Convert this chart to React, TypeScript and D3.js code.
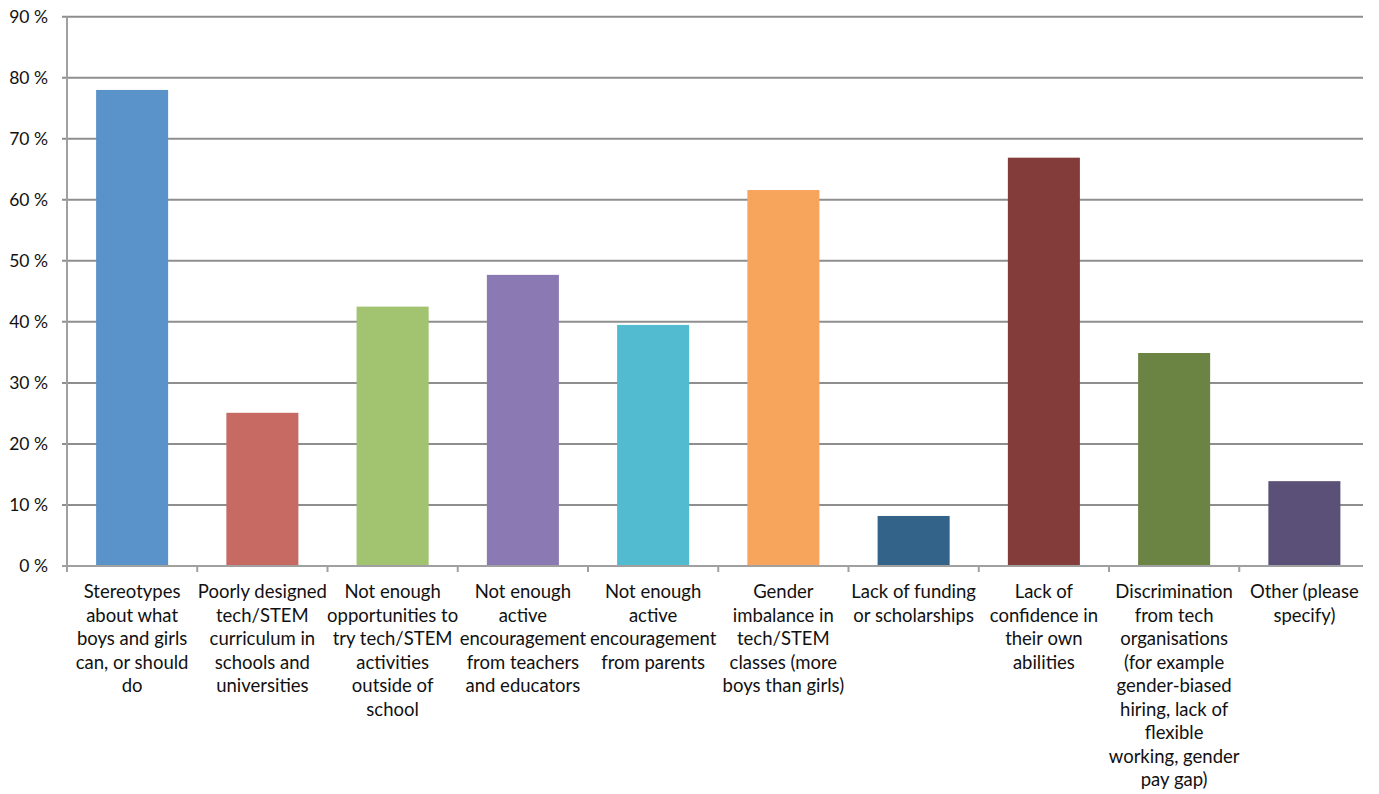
import { useEffect, useRef } from 'react'
import * as d3 from 'd3'

const categories: string[][] = [
  ['Stereotypes', 'about what', 'boys and girls', 'can, or should', 'do'],
  ['Poorly designed', 'tech/STEM', 'curriculum in', 'schools and', 'universities'],
  ['Not enough', 'opportunities to', 'try tech/STEM', 'activities', 'outside of', 'school'],
  ['Not enough', 'active', 'encouragement', 'from teachers', 'and educators'],
  ['Not enough', 'active', 'encouragement', 'from parents'],
  ['Gender', 'imbalance in', 'tech/STEM', 'classes (more', 'boys than girls)'],
  ['Lack of funding', 'or scholarships'],
  ['Lack of', 'confidence in', 'their own', 'abilities'],
  ['Discrimination', 'from tech', 'organisations', '(for example', 'gender-biased', 'hiring, lack of', 'flexible', 'working, gender', 'pay gap)'],
  ['Other (please', 'specify)'],
]

const values = [78, 25.1, 42.5, 47.7, 39.5, 61.6, 8.2, 66.9, 34.9, 13.9]

const colors = ['#5a93c9', '#c86a64', '#a2c370', '#8b79b3', '#52bbd0', '#f7a45d', '#336388', '#843c3b', '#6b8444', '#5b5077']

const yTicks = [0, 10, 20, 30, 40, 50, 60, 70, 80, 90]

export default function App() {
  const svgRef = useRef<SVGSVGElement>(null)

  useEffect(() => {
    if (!svgRef.current) return
    const width = 1379
    const height = 794
    const left = 67
    const gridRight = 1363

    const svg = d3.select(svgRef.current)
    svg.selectAll('*').remove()
    svg.attr('width', width).attr('height', height)

    const ids = categories.map((_, i) => String(i))
    const x = d3.scaleBand().domain(ids).range([left, 1369.5])
    const y = d3.scaleLinear().domain([0, 90]).range([566, 16.7])

    const font = 'Lato, "Open Sans", sans-serif'

    // Grid lines
    svg.append('g')
      .selectAll('line')
      .data(yTicks.filter(t => t > 0))
      .join('line')
      .attr('x1', left - 5).attr('x2', gridRight)
      .attr('y1', d => y(d)).attr('y2', d => y(d))
      .attr('stroke', '#8e8e8e').attr('stroke-width', 2)

    // Y axis line + zero line
    svg.append('line')
      .attr('x1', left).attr('x2', left)
      .attr('y1', y(90)).attr('y2', y(0) + 6)
      .attr('stroke', '#a0a0a0').attr('stroke-width', 2)
    svg.append('line')
      .attr('x1', left - 5).attr('x2', gridRight)
      .attr('y1', y(0)).attr('y2', y(0))
      .attr('stroke', '#a0a0a0').attr('stroke-width', 2)

    // X tick marks at band boundaries
    svg.append('g')
      .selectAll('line')
      .data(ids.slice(1))
      .join('line')
      .attr('x1', d => x(d) ?? 0).attr('x2', d => x(d) ?? 0)
      .attr('y1', y(0)).attr('y2', y(0) + 6)
      .attr('stroke', '#a0a0a0').attr('stroke-width', 2)

    // Y labels
    svg.append('g')
      .selectAll('text')
      .data(yTicks)
      .join('text')
      .attr('x', 48)
      .attr('y', d => y(d) + 6)
      .attr('text-anchor', 'end')
      .attr('font-family', font)
      .attr('font-size', 17.5)
      .attr('fill', '#111')
      .text(d => `${d} %`)

    // Bars
    const bw = x.bandwidth() * 0.553
    svg.append('g')
      .selectAll('rect')
      .data(values)
      .join('rect')
      .attr('x', (_, i) => (x(ids[i]) ?? 0) + (x.bandwidth() - bw) / 2)
      .attr('y', d => y(d))
      .attr('width', bw)
      .attr('height', d => y(0) - y(d) - 1)
      .attr('fill', (_, i) => colors[i])

    // Category labels
    categories.forEach((lines, i) => {
      const cx = (x(ids[i]) ?? 0) + x.bandwidth() / 2
      const t = svg.append('text')
        .attr('text-anchor', 'middle')
        .attr('font-family', font)
        .attr('font-size', 18.5)
        .attr('fill', '#111')
      lines.forEach((ln, j) => {
        t.append('tspan').attr('x', cx).attr('y', 598 + j * 23.5).text(ln)
      })
    })
  }, [])

  return (
    <div style={{ position: 'fixed', left: 0, top: 0, background: '#fff' }}>
      <svg ref={svgRef} style={{ display: 'block' }} />
    </div>
  )
}
